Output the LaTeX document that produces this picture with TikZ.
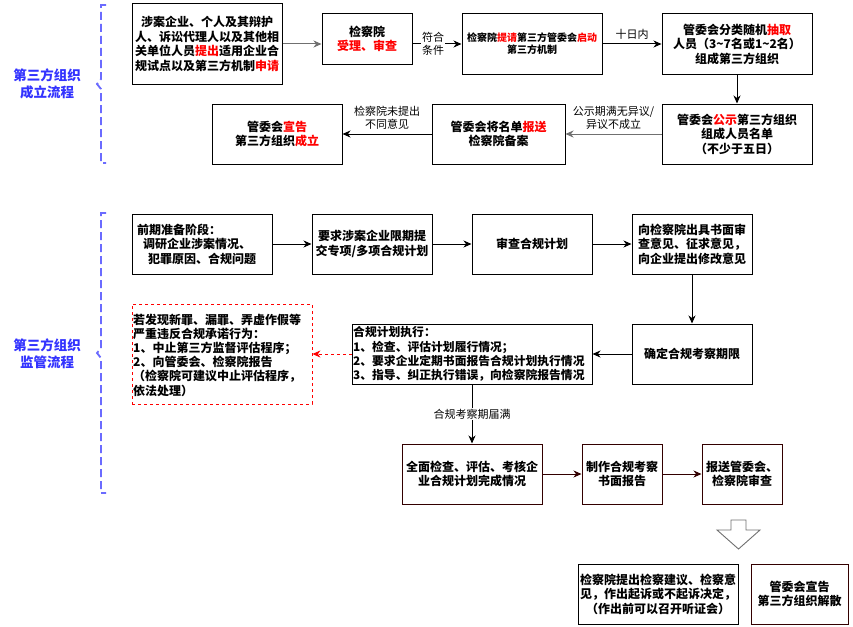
\documentclass[tikz,border=0pt]{standalone}
\usepackage{fontspec}
\setmainfont{Noto Sans CJK SC}
\usetikzlibrary{arrows.meta}
\definecolor{bracecol}{HTML}{6B6BFF}
\definecolor{titleblue}{HTML}{3333FF}
\definecolor{darkbrown}{HTML}{330000}
\definecolor{arrgray}{HTML}{707070}
\newcommand{\hl}[1]{\textcolor{red}{#1}}
\begin{document}
\begin{tikzpicture}[x=1pt,y=-1pt,
  box/.style={draw=black, line width=1pt, inner sep=0pt, align=center,
    font=\bfseries\fontsize{12}{14.5}\selectfont},
  txt/.style={inner sep=0pt, align=left, anchor=west,
    font=\bfseries\fontsize{12}{14.5}\selectfont},
  lbl/.style={inner sep=1pt, align=center, text=black, font=\fontsize{11}{13}\selectfont},
  arr/.style={-{Stealth[length=8pt,width=7pt,inset=2.5pt]}, line width=1pt},
  title/.style={text=titleblue, align=center, inner sep=0pt,
    font=\bfseries\fontsize{13.5}{16.5}\selectfont},
  brace/.style={draw=bracecol, line width=1.8pt, dash pattern=on 8pt off 4pt}]
\fill[white] (0,0) rectangle (853,626);
\useasboundingbox (0,0) rectangle (853,626);

% ---------- section 1 ----------
\node[title] (T1) at (47,84) {第三方组织\\成立流程};
\draw[brace] (106,5) -- (101,5) -- (101,79) -- (97,84) -- (101,89) -- (101,163) -- (106,163);

\node[box, minimum width=150pt, minimum height=80pt] (A) at (207,44)
  {涉案企业、个人及其辩护\\人、诉讼代理人以及其他相\\关单位人员\hl{提出}适用企业合\\规试点以及第三方机制\hl{申请}};
\node[box, minimum width=90pt, minimum height=50pt] (B) at (367,39)
  {检察院\\\hl{受理、审查}};
\node[box, minimum width=140pt, minimum height=60pt, font=\bfseries\fontsize{10}{12}\selectfont] (C) at (532,44)
  {检察院\hl{提请}第三方管委会\hl{启动}\\第三方机制};
\node[box, minimum width=150pt, minimum height=60pt] (D) at (737,44)
  {管委会分类随机\hl{抽取}\\人员（3\textasciitilde 7名或1\textasciitilde 2名）\\组成第三方组织};
\node[box, minimum width=150pt, minimum height=60pt] (E) at (737,134)
  {管委会\hl{公示}第三方组织\\组成人员名单\\（不少于五日）};
\node[box, minimum width=133pt, minimum height=60pt] (F) at (498.5,134)
  {管委会将名单\hl{报送}\\检察院备案};
\node[box, minimum width=130pt, minimum height=60pt] (G) at (277,134)
  {管委会\hl{宣告}\\第三方组织\hl{成立}};

\draw[arr, arrgray] (A) -- (A.east -| B.west);
\draw[arr] (B.east |- C.west) -- node[lbl, fill=white, pos=0.42] {符合\\条件} (C.west);
\draw[arr] (C) -- node[lbl, above=3pt] {十日内} (D);
\draw[arr] (D) -- (E);
\draw[arr, arrgray] (E) -- node[lbl, above=3pt] {公示期满无异议/\\异议不成立} (F);
\draw[arr] (F) -- node[lbl, above=3pt] {检察院未提出\\不同意见} (G);

% ---------- section 2 ----------
\node[title] (T2) at (47,354) {第三方组织\\监管流程};
\draw[brace] (106,213) -- (101,213) -- (101,348) -- (97,353) -- (101,358) -- (101,493) -- (106,493);

\node[box, minimum width=140pt, minimum height=60pt] (H) at (202,244) {};
\node[txt] (Ht) at (137,244) {前期准备阶段：\\\hspace*{6pt}调研企业涉案情况、\\\hspace*{11pt}犯罪原因、合规问题};
\node[box, minimum width=120pt, minimum height=60pt] (I) at (372,244)
  {要求涉案企业限期提\\交专项/多项合规计划};
\node[box, minimum width=120pt, minimum height=60pt] (J) at (532,244) {审查合规计划};
\node[box, minimum width=120pt, minimum height=60pt] (K) at (692,244)
  {向检察院出具书面审\\查意见、征求意见，\\向企业提出修改意见};
\node[box, minimum width=120pt, minimum height=60pt] (L) at (692,354) {确定合规考察期限};
\node[box, minimum width=240pt, minimum height=60pt] (M) at (472,354) {};
\node[txt, font=\bfseries\fontsize{11.8}{14.3}\selectfont] (Mt) at (353,354)
  {合规计划执行：\\1、检查、评估计划履行情况；\\2、要求企业定期书面报告合规计划执行情况\\3、指导、纠正执行错误，向检察院报告情况};
\node[box, draw=red, dashed, line width=0.8pt, minimum width=180pt, minimum height=100pt] (N) at (222,354) {};
\node[txt, font=\bfseries\fontsize{12}{14.2}\selectfont] (Nt) at (133,355)
  {若发现新罪、漏罪、弄虚作假等\\严重违反合规承诺行为：\\1、中止第三方监督评估程序；\\2、向管委会、检察院报告\\（检察院可建议中止评估程序，\\依法处理）};

\node[box, draw=darkbrown, minimum width=140pt, minimum height=60pt] (O) at (472,474)
  {全面检查、评估、考核企\\业合规计划完成情况};
\node[box, draw=darkbrown, minimum width=80pt, minimum height=60pt] (P) at (622,474)
  {制作合规考察\\书面报告};
\node[box, draw=darkbrown, minimum width=80pt, minimum height=60pt] (Q) at (742,474)
  {报送管委会、\\检察院审查};

\draw[arr] (H) -- (I);
\draw[arr] (I) -- (J);
\draw[arr] (J) -- (K);
\draw[arr] (K) -- (L);
\draw[arr] (L) -- (M);
\draw[arr, red, dashed] (M) -- (N);
\draw[arr] (M) -- node[lbl, fill=white] {合规考察期届满} (O);
\draw[arr, darkbrown] (O) -- (P);
\draw[arr, darkbrown] (P) -- (Q);

% ---------- result ----------
\draw[draw=arrgray, line width=0.9pt, fill=white] (731,520) -- (746,520) -- (746,530) -- (760,530)
  -- (738.5,549) -- (717,530) -- (731,530) -- cycle;
\node[box, minimum width=160pt, minimum height=60pt] (R) at (658,594)
  {检察院提出检察建议、检察意\\见，作出起诉或不起诉决定，\\（作出前可以召开听证会）};
\node[box, draw=darkbrown, minimum width=97pt, minimum height=60pt] (S) at (799.5,594)
  {管委会宣告\\第三方组织解散};
\end{tikzpicture}
\end{document}
